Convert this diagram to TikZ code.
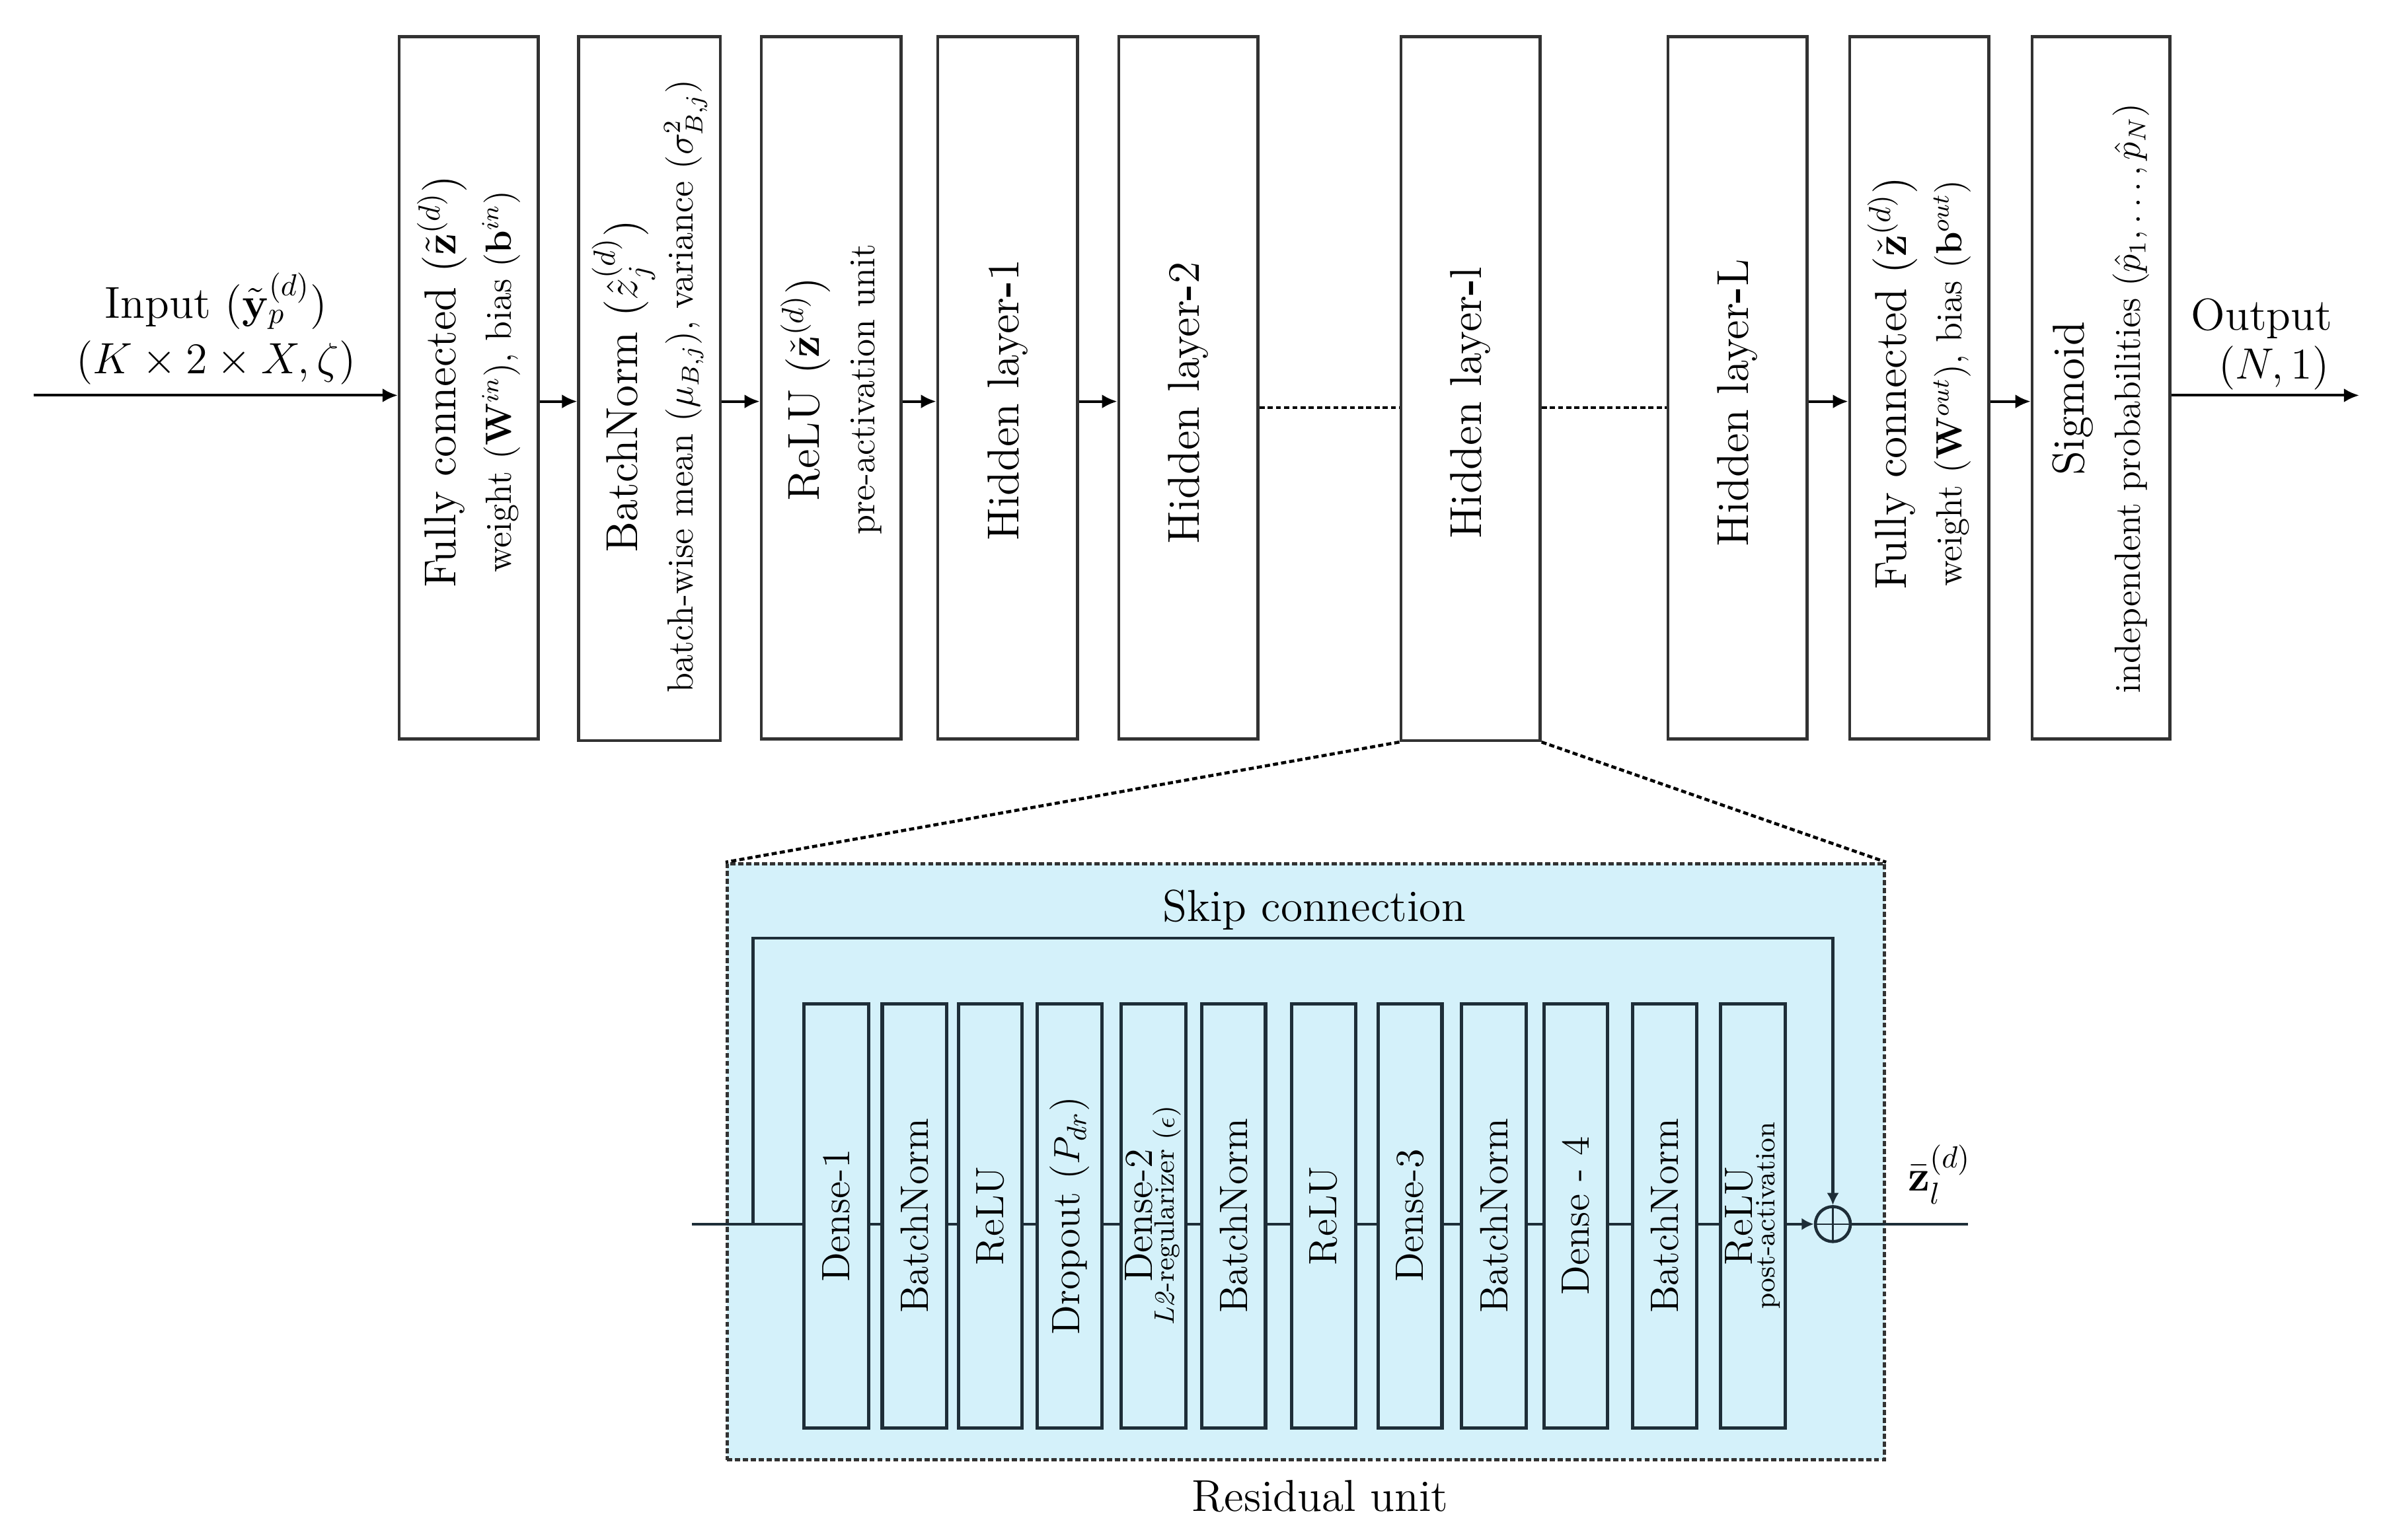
\documentclass[tikz,border=0pt]{standalone}
\usepackage{amsmath,amssymb}
\usetikzlibrary{arrows.meta,fit,calc}
\definecolor{resblue}{RGB}{212,241,250}
\definecolor{inedge}{RGB}{30,46,56}
\definecolor{boxedge}{RGB}{50,50,50}
\newcommand\fmain{\fontsize{14.7}{18.3}\selectfont}
\newcommand\fsub{\fontsize{12}{18.3}\selectfont}
\newcommand\finner{\fontsize{13}{7.2}\selectfont}
\newcommand\finsub{\fontsize{9.2}{7.2}\selectfont}
\begin{document}
\begin{tikzpicture}[x=0.5pt,y=-0.5pt,
  tbox/.style={draw=boxedge, line width=1pt, inner sep=0pt, fill=white},
  ibox/.style={draw=inedge, line width=1.1pt, inner sep=0pt, fill=resblue},
  ttext/.style={rotate=90, align=center, font=\fmain, inner sep=0pt},
  itext/.style={rotate=90, align=center, font=\finner, inner sep=0pt},
  arr/.style={line width=0.9pt, -{Latex[length=5pt,width=4.6pt]}},
  iarr/.style={line width=1pt, draw=inedge, -{Latex[length=4pt,width=4pt]}},
  iline/.style={draw=inedge, line width=1pt},
  zdash/.style={line width=1pt, dash pattern=on 1.7pt off 1pt},
  lbl/.style={font=\fmain, inner sep=0pt, anchor=base}
]
\useasboundingbox (0,0) rectangle (1568,1012.75);

% ---------- top row ----------
\node[tbox, fit={(262.5,24) (354,486)}] (fc1) {};
\node[tbox, fit={(380.5,24) (473.5,487)}] (bn1) {};
\node[tbox, fit={(500.5,24) (592.5,486)}] (relu1) {};
\node[tbox, fit={(616.5,24) (708.5,486)}] (hl1) {};
\node[tbox, fit={(735.5,24) (827,486)}] (hl2) {};
\node[tbox, fit={(921,24) (1012.5,487)}] (hll) {};
\node[tbox, fit={(1096.5,24) (1188,486)}] (hlL) {};
\node[tbox, fit={(1216,24) (1307.5,486)}] (fc2) {};
\node[tbox, fit={(1336,24) (1426.5,486)}] (sig) {};

\node[ttext] (fc1t) at (fc1.center |- 0,251) {Fully connected ($\tilde{\mathbf{z}}^{(d)}$)\\{\fsub weight ($\mathbf{W}^{in}$), bias ($\mathbf{b}^{in}$)}};
\node[ttext] (bn1t) at (bn1.center |- 0,254) {BatchNorm ($\hat{z}_j^{(d)}$)\\{\fsub batch-wise mean ($\mu_{B,j}$), variance ($\sigma^2_{B,j}$)}};
\node[ttext] (relu1t) at (relu1.center |- 0,256) {ReLU ($\check{\mathbf{z}}^{(d)}$)\\{\fsub pre-activation unit}};
\node[ttext] (hl1t) at (hl1.center |- 0,263) {Hidden layer\textbf{-}1};
\node[ttext] (hl2t) at (hl2.center |- 0,265) {Hidden layer\textbf{-}2};
\node[ttext] (hllt) at (hll.center |- 0,265) {Hidden layer\textbf{-}l};
\node[ttext] (hlLt) at (hlL.center |- 0,265) {Hidden layer\textbf{-}L};
\node[ttext] (fc2t) at (fc2.center |- 0,252) {Fully connected ($\check{\mathbf{z}}^{(d)}$)\\{\fsub weight ($\mathbf{W}^{out}$), bias ($\mathbf{b}^{out}$)}};
\node[ttext] (sigt) at (sig.center |- 0,262) {Sigmoid\\{\fsub independent probabilities ($\hat{p}_1,\ldots,\hat{p}_N$)}};

% input / output
\coordinate (inS) at (22,260);
\coordinate (outE) at (1551,260);
\coordinate (ya) at (0,264);
\coordinate (yb) at (0,268);
\draw[arr] (inS) -- (inS -| fc1.west);
\node[font=\fmain, align=center, inner sep=0pt, anchor=south] (int) at (142,253.5)
  {Input ($\tilde{\mathbf{y}}_p^{(d)}$)\\$(K\times 2\times X,\zeta)$};
\draw[arr] (sig.east |- outE) -- (outE);
\node[lbl] (outt1) at (1487,217) {Output};
\node[lbl] (outt2) at (1495,249) {$(N,1)$};

\draw[arr] (fc1.east |- ya) -- (bn1.west |- ya);
\draw[arr] (bn1.east |- ya) -- (relu1.west |- ya);
\draw[arr] (relu1.east |- ya) -- (hl1.west |- ya);
\draw[arr] (hl1.east |- ya) -- (hl2.west |- ya);
\draw[zdash] (hl2.east |- yb) -- (hll.west |- yb);
\draw[zdash] (hll.east |- yb) -- (hlL.west |- yb);
\draw[arr] (hlL.east |- ya) -- (fc2.west |- ya);
\draw[arr] (fc2.east |- ya) -- (sig.west |- ya);

% ---------- residual unit ----------
\node[fit={(478,568) (1239,960)}, inner sep=0pt, draw=boxedge, fill=resblue,
      line width=1pt, dash pattern=on 1.7pt off 0.9pt] (res) {};
\draw[zdash] (hll.south west) -- (res.north west);
\draw[zdash] (hll.south east) -- (res.north east);

\node[lbl] (skipt) at (864,606) {Skip connection};
\node[lbl] (rest) at (868,994) {Residual unit};

\node[ibox, fit={(528.5,660) (571,939)}] (d1) {};
\node[ibox, fit={(580,660) (622.5,939)}] (bna) {};
\node[ibox, fit={(630,660) (672,939)}] (rla) {};
\node[ibox, fit={(682,660) (724.5,939)}] (drp) {};
\node[ibox, fit={(737,660) (779.5,939)}] (d2) {};
\node[ibox, fit={(790,660) (832,939)}] (bnb) {};
\node[ibox, fit={(849,660) (891.5,939)}] (rlb) {};
\node[ibox, fit={(906,660) (948,939)}] (d3) {};
\node[ibox, fit={(961,660) (1003.5,939)}] (bnc) {};
\node[ibox, fit={(1015,660) (1057,939)}] (d4) {};
\node[ibox, fit={(1073.5,660) (1115.5,939)}] (bnd) {};
\node[ibox, fit={(1131,660) (1173.5,939)}] (rlc) {};

\node[itext] (d1t) at (d1.center) {Dense-1};
\node[itext] (bnat) at (bna.center) {BatchNorm};
\node[itext] (rlat) at (rla.center) {ReLU};
\node[itext] (drpt) at (drp.center) {Dropout ($P_{dr}$)};
\node[itext] (d2t) at (d2.center) {Dense-2\\{\finsub \textit{L2}-regularizer ($\epsilon$)}};
\node[itext] (bnbt) at (bnb.center) {BatchNorm};
\node[itext] (rlbt) at (rlb.center) {ReLU};
\node[itext] (d3t) at (d3.center) {Dense-3};
\node[itext] (bnct) at (bnc.center) {BatchNorm};
\node[itext] (d4t) at (d4.center) {Dense - 4};
\node[itext] (bndt) at (bnd.center) {BatchNorm};
\node[itext] (rlct) at (rlc.center) {ReLU\\{\finsub post-activation}};

\node[circle, draw=inedge, line width=1pt, minimum size=11.5pt, inner sep=0pt, fill=resblue,
      path picture={\draw[line width=0.5pt, draw=inedge]
        (path picture bounding box.north) -- (path picture bounding box.south)
        (path picture bounding box.west) -- (path picture bounding box.east);}] (sum) at (1205,805) {};

\coordinate (rin) at (455,805);
\coordinate (jn) at (495,805);
\coordinate (sk) at (495,617);
\coordinate (rout) at (1294,805);

\draw[iline] (rin) -- (rin -| d1.west);
\foreach \a/\b in {d1/bna, bna/rla, rla/drp, drp/d2, d2/bnb, bnb/rlb, rlb/d3, d3/bnc, bnc/d4, d4/bnd, bnd/rlc}
  \draw[iline] (\a.east |- rin) -- (\b.west |- rin);
\draw[iarr] (rlc.east |- rin) -- (sum.west);
\draw[iarr] (jn) -- (sk) -| (sum.north);
\draw[iline] (sum.east) -- (rout);
\node[font=\fmain, inner sep=0pt, anchor=base west] (zl) at (1254,783) {$\bar{\mathbf{z}}_l^{(d)}$};
\end{tikzpicture}
\end{document}
